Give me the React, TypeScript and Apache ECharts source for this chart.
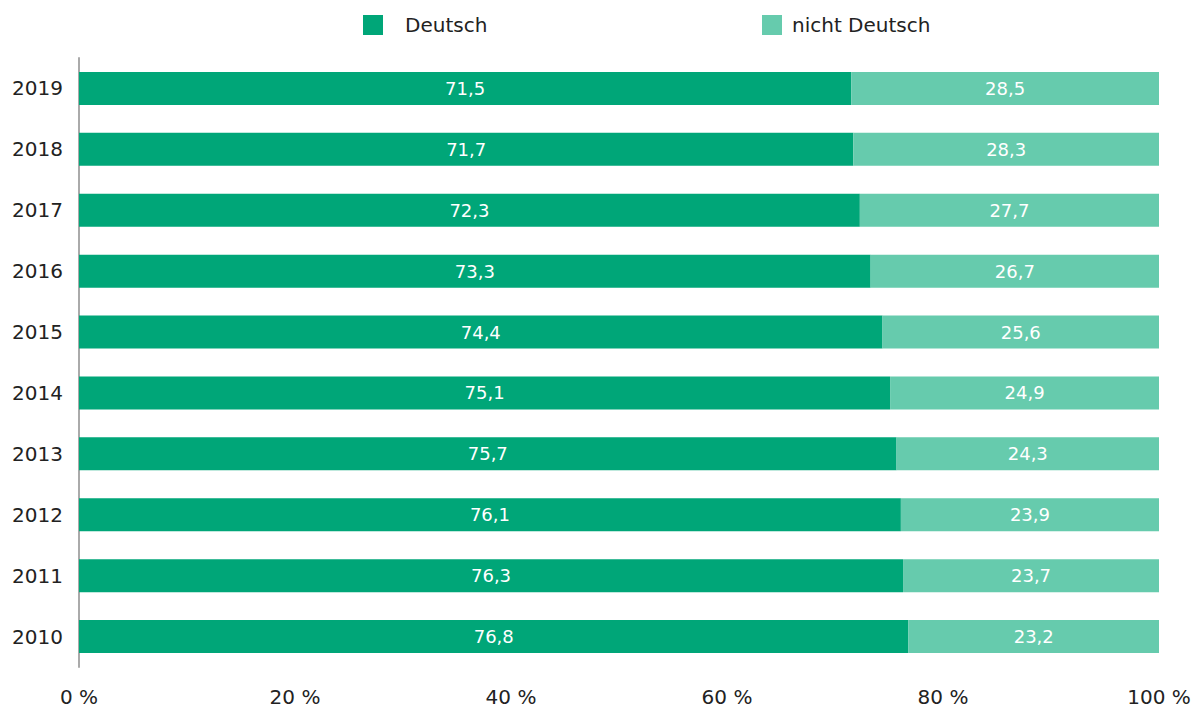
import React, { useEffect, useRef } from "react";
import * as echarts from "echarts";

const years = ["2019", "2018", "2017", "2016", "2015", "2014", "2013", "2012", "2011", "2010"];
const deutsch = [71.5, 71.7, 72.3, 73.3, 74.4, 75.1, 75.7, 76.1, 76.3, 76.8];
const nichtDeutsch = [28.5, 28.3, 27.7, 26.7, 25.6, 24.9, 24.3, 23.9, 23.7, 23.2];
const xTicks = { min: 0, max: 100, interval: 20 };

const FONT = "'DejaVu Sans', 'Open Sans', sans-serif";
const fmt = (v: number) => v.toFixed(1).replace(".", ",");

export default function App() {
  const ref = useRef<HTMLDivElement>(null);
  useEffect(() => {
    if (!ref.current) return;
    const chart = echarts.init(ref.current, null, { renderer: "svg" });
    chart.setOption({
      animation: false,
      textStyle: { fontFamily: FONT },
      legend: [
        {
          data: [{ name: "Deutsch", textStyle: { padding: [0, 0, 0, 17] } }],
          left: 358,
          top: 10,
          itemWidth: 20,
          itemHeight: 20,
          icon: "rect",
          textStyle: { fontSize: 20, color: "#222", fontFamily: FONT },
        },
        {
          data: [{ name: "nicht Deutsch", textStyle: { padding: [0, 0, 0, 5] } }],
          left: 757,
          top: 10,
          itemWidth: 20,
          itemHeight: 20,
          icon: "rect",
          textStyle: { fontSize: 20, color: "#222", fontFamily: FONT },
        },
      ],
      grid: { left: 79, right: 35, top: 58, bottom: 42, containLabel: false },
      xAxis: {
        type: "value",
        min: xTicks.min,
        max: xTicks.max,
        interval: xTicks.interval,
        axisLine: { show: false },
        axisTick: { show: false },
        splitLine: { show: false },
        axisLabel: {
          formatter: "{value} %",
          fontSize: 20,
          color: "#222",
          margin: 20,
          fontFamily: FONT,
        },
      },
      yAxis: {
        type: "category",
        data: years,
        inverse: true,
        axisLine: { show: true, lineStyle: { color: "#aaa", width: 2 } },
        axisTick: { show: false },
        axisLabel: { fontSize: 20, color: "#222", margin: 16, fontFamily: FONT },
      },
      series: [
        {
          name: "Deutsch",
          type: "bar",
          stack: "total",
          data: deutsch,
          barWidth: 33,
          itemStyle: { color: "#00a678" },
          label: {
            show: true,
            position: "inside",
            color: "#fff",
            fontSize: 18,
            fontFamily: FONT,
            formatter: (p: any) => fmt(p.value),
          },
        },
        {
          name: "nicht Deutsch",
          type: "bar",
          stack: "total",
          data: nichtDeutsch,
          barWidth: 33,
          itemStyle: { color: "#66cbad" },
          label: {
            show: true,
            position: "inside",
            color: "#fff",
            fontSize: 18,
            fontFamily: FONT,
            formatter: (p: any) => fmt(p.value),
          },
        },
      ],
    });
    return () => chart.dispose();
  }, []);
  return (
    <div
      ref={ref}
      style={{ position: "fixed", left: 0, top: 0, width: 1194, height: 709, background: "#fff" }}
    />
  );
}
